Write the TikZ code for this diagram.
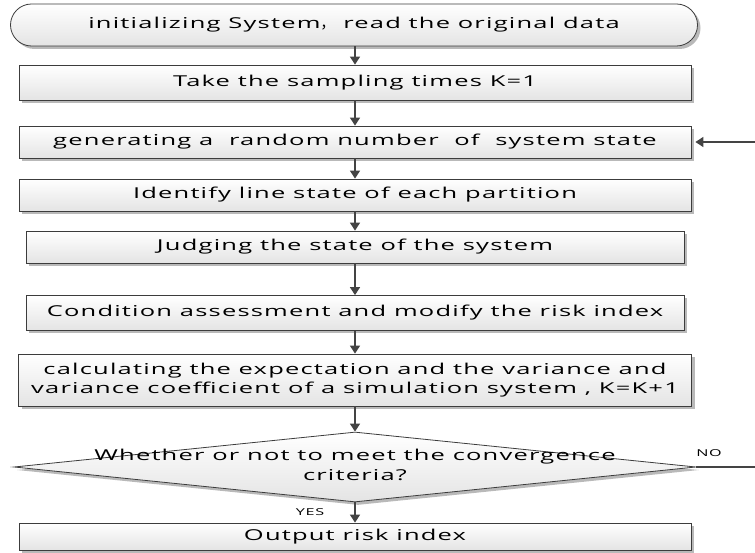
\documentclass[tikz,border=0pt]{standalone}
\usepackage{fontspec}
\setmainfont{Open Sans}[FakeStretch=1.7, LetterSpace=8]
\newfontfamily\cjk{Noto Sans CJK SC}
\usetikzlibrary{shapes.geometric,shapes.misc,shadows,arrows.meta}
\definecolor{boxline}{HTML}{3C3C3C}
\definecolor{boxbot}{HTML}{E4E4E4}
\definecolor{shadowc}{HTML}{A8A8A8}
\definecolor{arrc}{HTML}{444444}
\tikzset{
  base/.style={draw=boxline, line width=0.8pt, top color=white, bottom color=boxbot,
    drop shadow={shadow xshift=3pt, shadow yshift=-3pt, fill=shadowc, opacity=0.8},
    font=\fontsize{15}{19}\selectfont, align=center, inner sep=0pt},
  proc/.style={base, rectangle},
  term/.style={base, rounded rectangle},
  arr/.style={draw=arrc, line width=1.6pt, -{Triangle[length=8pt,width=10pt]}},
  lbl/.style={font=\fontsize{9.5}{11}\selectfont, inner sep=0pt},
}
\begin{document}
\begin{tikzpicture}[x=1pt,y=-1pt]
\useasboundingbox (0,0) rectangle (755,553);
\node[term, minimum width=687pt, minimum height=42pt] (init) at (354,25) {initializing System{\cjk ，}\ read the original data};
\node[proc, minimum width=672pt, minimum height=35pt] (take) at (355,82.5) {Take the sampling times K=1};
\node[proc, minimum width=672pt, minimum height=32pt] (gen) at (355,142) {generating a\ \ random number\ \ of\ \ system state};
\node[proc, minimum width=672pt, minimum height=32pt] (ident) at (355,195) {Identify line state of each partition};
\node[proc, minimum width=658pt, minimum height=32pt] (judge) at (355,247) {Judging the state of the system};
\node[proc, minimum width=658pt, minimum height=35pt] (cond) at (355,313) {Condition assessment and modify the risk index};
\node[proc, minimum width=673pt, minimum height=52pt] (calc) at (355,380) {calculating the expectation and the variance and\\variance coefficient of a simulation system , K=K+1};
\node[base, diamond, minimum width=682pt, minimum height=70pt, aspect=9.7] (dia) at (355,467) {};
\node[font=\fontsize{15}{20}\selectfont, align=center, inner sep=0pt] (diatext) at (355,465) {Whether or not to meet the convergence\\criteria?};
\node[proc, minimum width=672pt, minimum height=27pt] (out) at (355,536.5) {Output risk index};
\coordinate (loop) at (790,467);
\draw[arr] (init.south -| take.north) -- (take.north);
\draw[arr] (take) -- (gen);
\draw[arr] (gen) -- (ident);
\draw[arr] (ident) -- (judge);
\draw[arr] (judge) -- (cond);
\draw[arr] (cond) -- (calc);
\draw[arr] (calc) -- (dia);
\draw[arr] (dia) -- (out);
\draw[arr] (dia.east) -- (loop) |- ([xshift=4pt]gen.east);
\node[lbl] (no) at (709,453) {NO};
\node[lbl] (yes) at (310,512) {YES};
\end{tikzpicture}
\end{document}
